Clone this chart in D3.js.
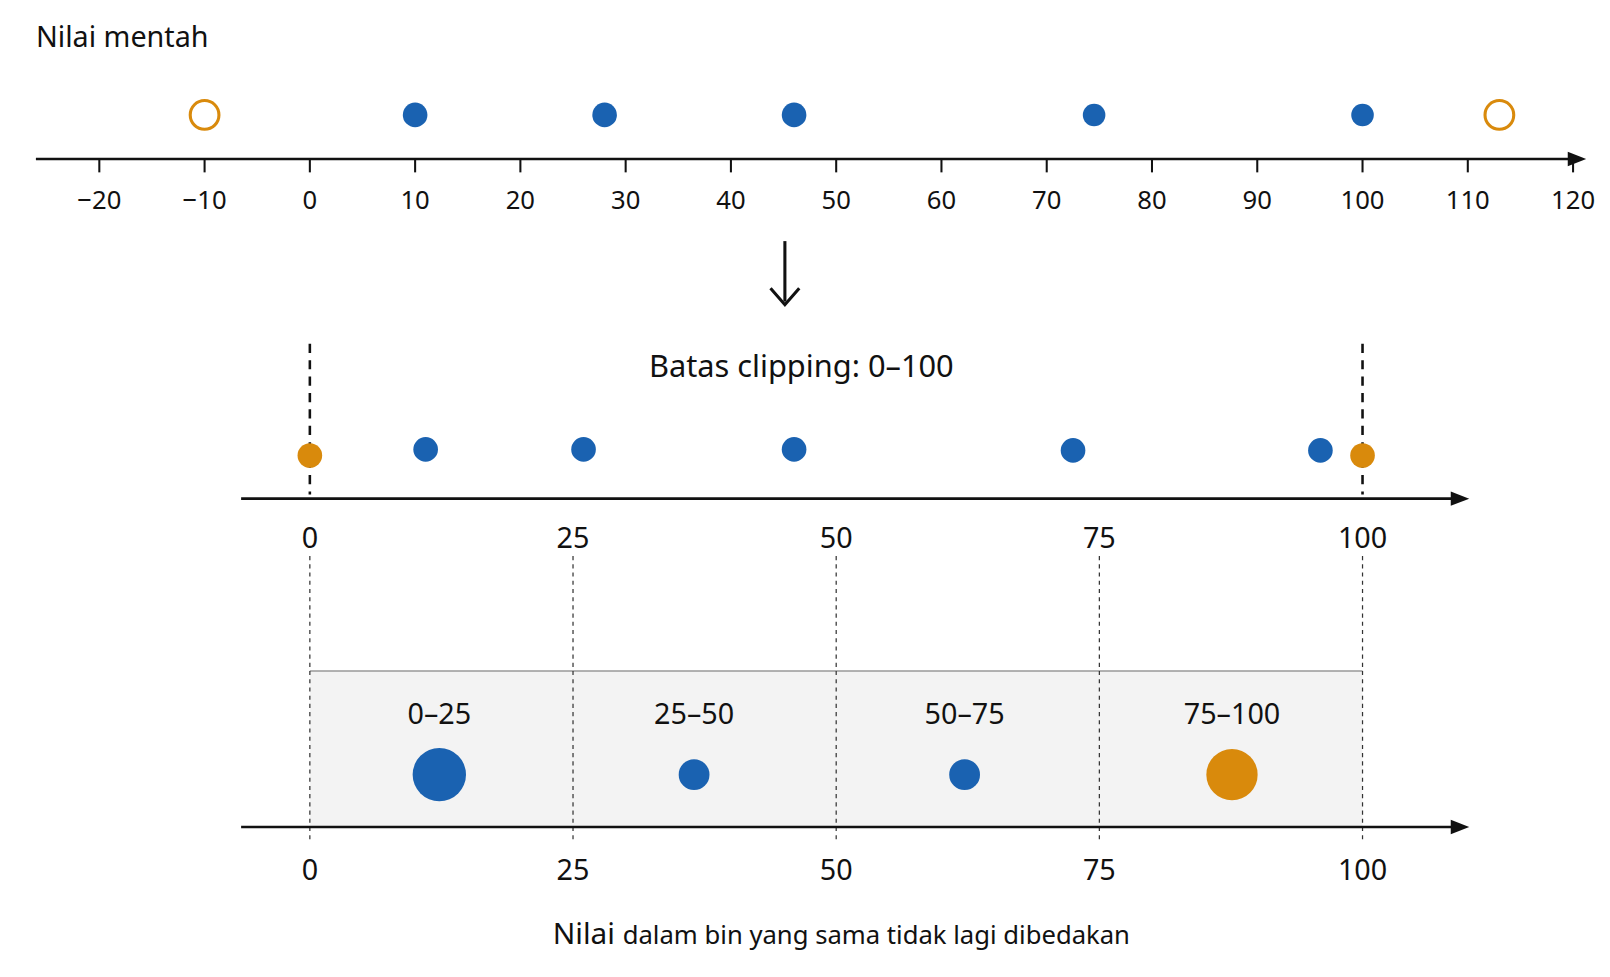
<!DOCTYPE html>
<html><head><meta charset="utf-8">
<script src="https://cdn.jsdelivr.net/npm/d3@7"></script>
<style>body{margin:0;background:#fff}text{font-family:"Noto Sans",sans-serif;fill:#111}</style>
</head><body>
<script>
const rawPoints = [
  {v: -10, r: 14, out: true}, {v: 10, r: 12}, {v: 28, r: 12}, {v: 46, r: 12},
  {v: 74.5, r: 11}, {v: 100, r: 11}, {v: 113, r: 14, out: true}
]
const rawTicks = [-20, -10, 0, 10, 20, 30, 40, 50, 60, 70, 80, 90, 100, 110, 120]
const clipPoints = [
  {v: 0, dy: 6, out: true}, {v: 11, dy: 0}, {v: 26, dy: 0}, {v: 46, dy: 0},
  {v: 72.5, dy: 1}, {v: 96, dy: 1}, {v: 100, dy: 6, out: true}
]
const binTicks = [0, 25, 50, 75, 100]
const bins = [
  {label: "0–25", c: 12.3, r: 26, out: false},
  {label: "25–50", c: 36.5, r: 15, out: false},
  {label: "50–75", c: 62.2, r: 15, out: false},
  {label: "75–100", c: 87.6, r: 25, out: true}
]
const blue = "#1a62b1", orange = "#d98a0c"

const w = 1610, h = 977
const root = d3.select("body").append("svg").attr("width", w).attr("height", h)
// layout drawn on a 1568-wide grid, scaled up to the page
const svg = root.append("g").attr("transform", "scale(1.026)")
const x = d3.scaleLinear().domain([0, 100]).range([302, 1328])

function axisLine(x1, x2, y) {
  svg.append("line").attr("x1", x1).attr("x2", x2).attr("y1", y).attr("y2", y)
    .attr("stroke", "#111").attr("stroke-width", 2.5)
  svg.append("path").attr("d", `M${x2 - 4},${y - 7}L${x2 + 14},${y}L${x2 - 4},${y + 7}z`).attr("fill", "#111")
}

// Panel 1: raw values
svg.append("text").attr("x", 35).attr("y", 46).attr("font-size", 28).text("Nilai mentah")
axisLine(35, 1532, 155)
const g1 = svg.append("g")
g1.selectAll("line.t").data(rawTicks).join("line")
  .attr("x1", d => x(d)).attr("x2", d => x(d)).attr("y1", 155).attr("y2", 168)
  .attr("stroke", "#111").attr("stroke-width", 2)
g1.selectAll("text").data(rawTicks).join("text")
  .attr("x", d => x(d)).attr("y", 204).attr("text-anchor", "middle").attr("font-size", 25)
  .text(d => d < 0 ? "−" + (-d) : d)
g1.selectAll("circle").data(rawPoints).join("circle")
  .attr("cx", d => x(d.v)).attr("cy", 112).attr("r", d => d.r)
  .attr("fill", d => d.out ? "none" : blue)
  .attr("stroke", d => d.out ? orange : "none").attr("stroke-width", 3)

// down arrow
svg.append("line").attr("x1", 765).attr("x2", 765).attr("y1", 235).attr("y2", 294)
  .attr("stroke", "#111").attr("stroke-width", 3)
svg.append("path").attr("d", "M751,281L765,297L779,281").attr("fill", "none")
  .attr("stroke", "#111").attr("stroke-width", 3)

// Panel 2: clipped
svg.append("text").attr("x", 781).attr("y", 367).attr("text-anchor", "middle")
  .attr("font-size", 30).text("Batas clipping: 0–100")
;[0, 100].forEach(v => svg.append("line").attr("x1", x(v)).attr("x2", x(v))
  .attr("y1", 335).attr("y2", 482).attr("stroke", "#111").attr("stroke-width", 2.5)
  .attr("stroke-dasharray", "9,7"))
axisLine(235, 1418, 486)
svg.selectAll("text.c2").data(binTicks).join("text").attr("class", "c2")
  .attr("x", d => x(d)).attr("y", 534).attr("text-anchor", "middle").attr("font-size", 28)
  .text(d => d)
svg.selectAll("circle.c2").data(clipPoints).join("circle").attr("class", "c2")
  .attr("cx", d => x(d.v)).attr("cy", d => 438 + d.dy).attr("r", 12)
  .attr("fill", d => d.out ? orange : blue)

// Panel 3: bins
svg.append("rect").attr("x", x(0)).attr("y", 654).attr("width", x(100) - x(0))
  .attr("height", 152).attr("fill", "#f3f3f3")
svg.append("line").attr("x1", x(0)).attr("x2", x(100)).attr("y1", 654).attr("y2", 654)
  .attr("stroke", "#999").attr("stroke-width", 1.5)
svg.selectAll("line.bt").data(binTicks).join("line").attr("class", "bt")
  .attr("x1", d => x(d)).attr("x2", d => x(d)).attr("y1", 542).attr("y2", 820)
  .attr("stroke", "#333").attr("stroke-width", 1.2).attr("stroke-dasharray", "4,4")
axisLine(235, 1418, 806)
svg.selectAll("text.c3").data(binTicks).join("text").attr("class", "c3")
  .attr("x", d => x(d)).attr("y", 858).attr("text-anchor", "middle").attr("font-size", 28)
  .text(d => d)
svg.selectAll("text.bl").data(bins).join("text").attr("class", "bl")
  .attr("x", d => x(d.c)).attr("y", 706).attr("text-anchor", "middle").attr("font-size", 28)
  .text(d => d.label)
svg.selectAll("circle.b").data(bins).join("circle").attr("class", "b")
  .attr("cx", d => x(d.c)).attr("cy", 755).attr("r", d => d.r)
  .attr("fill", d => d.out ? orange : blue)

const cap = svg.append("text").attr("x", 820).attr("y", 920).attr("text-anchor", "middle")
cap.append("tspan").attr("font-size", 29).text("Nilai ")
cap.append("tspan").attr("font-size", 25).text("dalam bin yang sama tidak lagi dibedakan")
</script>
</body></html>
